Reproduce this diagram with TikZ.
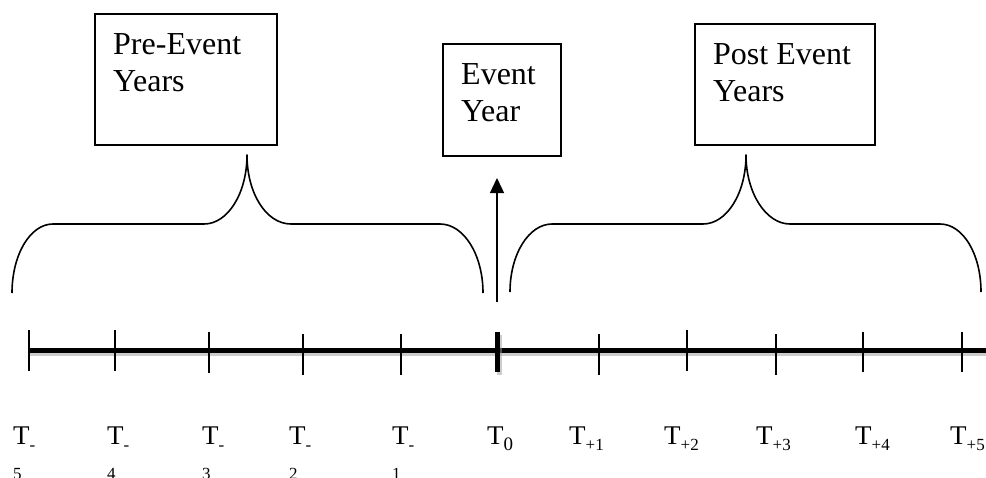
\documentclass[tikz,border=0pt]{standalone}
\usepackage{fontspec}
\setmainfont{Liberation Serif}
\usetikzlibrary{arrows.meta}

\newcommand{\yearsub}[2][17]{\raisebox{-6pt}{\fontsize{#1}{#1}\selectfont #2}}

\begin{document}
\begin{tikzpicture}[x=1pt, y=-1pt, >={Triangle[length=15pt, width=14pt]},
    every node/.style={font=\fontsize{32}{37}\selectfont},
    yearbox/.style={draw, line width=1.6pt, anchor=north west, inner sep=0pt},
    boxtext/.style={anchor=north west, align=left, inner xsep=19pt, inner ysep=20pt},
    brace/.style={line width=1.6pt, line join=round},
    tick/.style={line width=2.6pt},
    ticklabel/.style={anchor=base west, inner sep=0pt, font=\fontsize{27}{31}\selectfont},
    wrapped/.style={anchor=base west, inner sep=0pt, yshift=-35pt,
                    font=\fontsize{17}{17}\selectfont}]

  \useasboundingbox (0,0) rectangle (986,477);
  \clip (0,0) rectangle (986,477);

  %% the three labelled boxes
  \node[yearbox, minimum width=182pt, minimum height=131pt,
        label={[boxtext]north west:Pre-Event\\Years}] (pre) at (94,13) {};
  \node[yearbox, minimum width=118pt, minimum height=112pt,
        label={[boxtext]north west:Event\\Year}] (event) at (442,43) {};
  \node[yearbox, minimum width=180pt, minimum height=121pt,
        label={[boxtext]north west:Post Event\\Years}] (post) at (694,23) {};

  %% brace over the years before the event
  \draw[brace] (12,293) .. controls (12,255) and (30,224) .. (53,224) -- (204,224)
    .. controls (228,224) and (247,193) .. (247,155)
    .. controls (247,193) and (266,224) .. (291,224) -- (440,224)
    .. controls (464,224) and (483,255) .. (483,293);

  %% brace over the years after the event
  \draw[brace] (510,292) .. controls (510,254) and (529,224) .. (552,224) -- (703,224)
    .. controls (727,224) and (746,193) .. (746,155)
    .. controls (746,193) and (766,224) .. (790,224) -- (940,224)
    .. controls (963,224) and (981,254) .. (981,292);

  %% arrow pointing at the event year
  \coordinate (arrowfoot) at (497,302);
  \coordinate (arrowtip) at (497,178);
  \draw[->, line width=1.4pt] (arrowfoot) -- (arrowtip);

  %% time line with its soft shadow
  \draw[black!40, opacity=0.5, line width=5pt] (29,353) -- (986,353);
  \draw[line width=5pt] (29,350) -- (986,350);

  %% year ticks
  \foreach \x/\top/\bot in {29/330/371, 115/330/371, 209/332/373, 303/334/375,
                            401/334/375, 599/334/375, 687/330/371, 776/334/375,
                            863/332/372, 962/332/372}
    \draw[tick] (\x,\top) -- (\x,\bot);
  \draw[black!40, opacity=0.5, line width=5pt] (499,335) -- (499,375);
  \draw[line width=5pt] (497,332) -- (497,372);

  %% year labels, the negative ones wrap their number onto a second line
  \foreach \x/\n in {13/5, 107/4, 202/3, 289/2, 392/1}
    \node[ticklabel, label={[wrapped]base west:\n}] (tm\n) at (\x,444) {T\yearsub{-}};
  \node[ticklabel] (t0) at (487,444) {T\yearsub[19]{0}};
  \foreach \x/\n in {569/1, 664/2, 756/3, 855/4, 950/5}
    \node[ticklabel] (tp\n) at (\x,444) {T\yearsub{+\n}};

\end{tikzpicture}
\end{document}
